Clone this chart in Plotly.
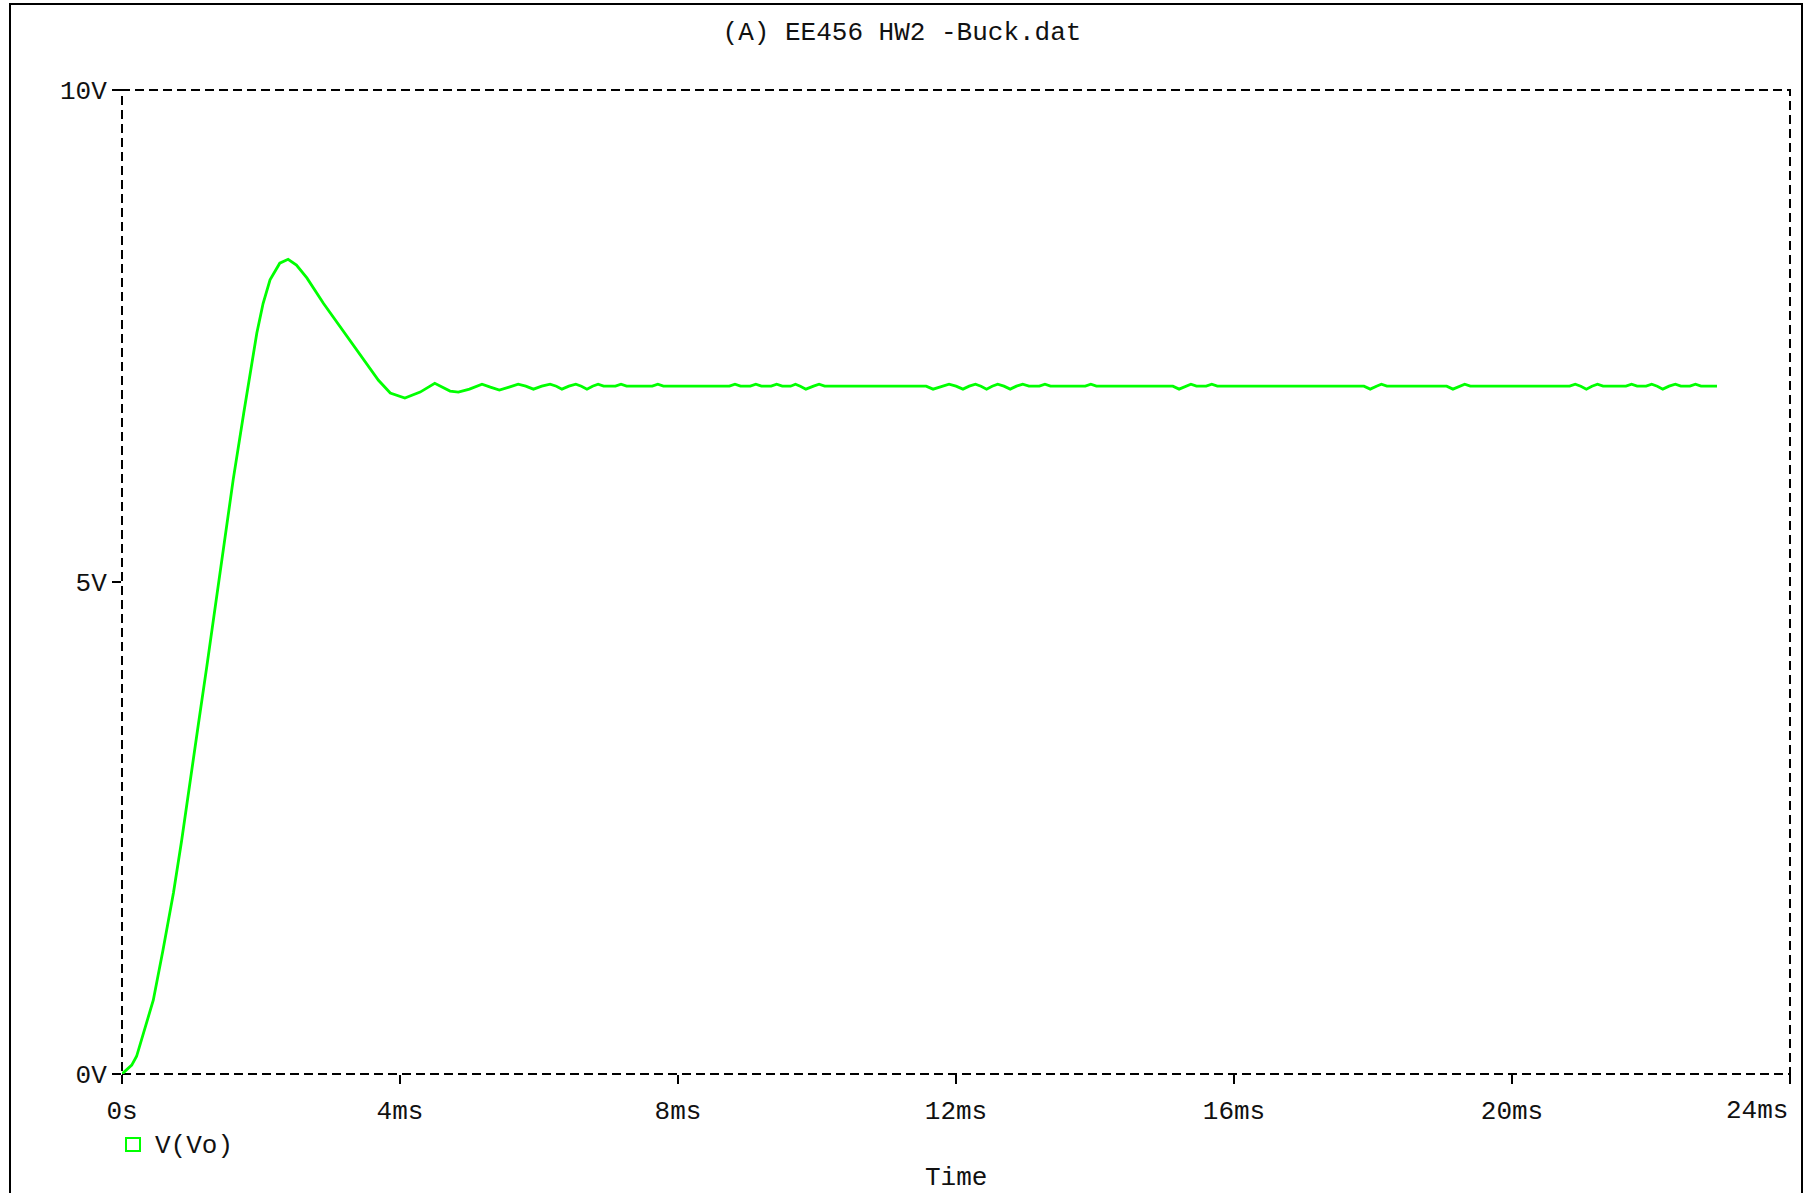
import plotly.graph_objects as go

# ---- data (time in ms, voltage in V) ----
t_rise = [0.00, 0.14, 0.21, 0.31, 0.45, 0.59, 0.74, 0.86, 0.98, 1.10, 1.22, 1.34, 1.46, 1.60, 1.75, 1.84, 1.94, 2.03, 2.13, 2.27, 2.39]
v_rise = [0.00, 0.09, 0.18, 0.41, 0.75, 1.26, 1.84, 2.38, 2.99, 3.56, 4.14, 4.75, 5.33, 6.04, 6.71, 7.12, 7.53, 7.83, 8.07, 8.24, 8.28]

t_ring = [2.51, 2.66, 2.90, 3.14, 3.42, 3.69, 3.86, 4.07, 4.29, 4.50, 4.72, 4.84, 5.00, 5.18, 5.30, 5.43, 5.57, 5.70, 5.81, 5.92,
          6.04, 6.16, 6.25, 6.33, 6.43, 6.53, 6.61, 6.69, 6.77, 6.85, 6.93]
v_ring = [8.22, 8.09, 7.83, 7.59, 7.32, 7.05, 6.92, 6.87, 6.93, 7.02, 6.94, 6.93, 6.96, 7.01, 6.98, 6.95, 6.98, 7.01, 6.99, 6.96,
          6.99, 7.01, 6.99, 6.96, 6.99, 7.01, 6.99, 6.96, 6.99, 7.01, 6.99]

t_settle_1 = [7.10, 7.18, 7.26, 7.63, 7.71, 7.79, 8.74, 8.82, 8.90, 9.04, 9.12, 9.20, 9.34, 9.42, 9.50, 9.62, 9.69, 9.76, 9.84, 9.95, 10.03, 10.11]
v_settle_1 = [6.99, 7.01, 6.99, 6.99, 7.01, 6.99, 6.99, 7.01, 6.99, 6.99, 7.01, 6.99, 6.99, 7.01, 6.99, 6.99, 7.01, 6.99, 6.96, 6.99, 7.01, 6.99]

t_settle_2 = [11.57, 11.67, 11.80, 11.90, 12.00, 12.10, 12.19, 12.28, 12.36, 12.44, 12.52, 12.60, 12.69, 12.78, 12.87, 12.96, 13.05, 13.20, 13.28, 13.36, 13.86, 13.94, 14.02]
v_settle_2 = [6.99, 6.96, 6.99, 7.01, 6.99, 6.96, 6.99, 7.01, 6.99, 6.96, 6.99, 7.01, 6.99, 6.96, 6.99, 7.01, 6.99, 6.99, 7.01, 6.99, 6.99, 7.01, 6.99]

t_settle_3 = [15.12, 15.21, 15.30, 15.38, 15.46, 15.60, 15.68, 15.76, 17.87, 17.96, 18.05, 18.12, 18.20, 19.06, 19.15, 19.24, 19.32, 19.40]
v_settle_3 = [6.99, 6.96, 6.99, 7.01, 6.99, 6.99, 7.01, 6.99, 6.99, 6.96, 6.99, 7.01, 6.99, 6.99, 6.96, 6.99, 7.01, 6.99]

t_settle_4 = [20.83, 20.91, 20.99, 21.07, 21.15, 21.23, 21.31, 21.64, 21.72, 21.80, 21.93, 22.01, 22.09, 22.17, 22.26, 22.35, 22.43, 22.56, 22.64, 22.72, 22.95]
v_settle_4 = [6.99, 7.01, 6.99, 6.96, 6.99, 7.01, 6.99, 6.99, 7.01, 6.99, 6.99, 7.01, 6.99, 6.96, 6.99, 7.01, 6.99, 6.99, 7.01, 6.99, 6.99]

x_tickvals = [0, 4, 8, 12, 16, 20, 24]
x_ticktext = ["0s", "4ms", "8ms", "12ms", "16ms", "20ms", "24ms"]
y_tickvals = [0, 5, 10]
y_ticktext = ["0V", "5V", "10V"]

series_name = "V(Vo)"
title_text = "(A) EE456 HW2 -Buck.dat"
x_title = "Time"

t_all = t_rise + t_ring + t_settle_1 + t_settle_2 + t_settle_3 + t_settle_4
v_all = v_rise + v_ring + v_settle_1 + v_settle_2 + v_settle_3 + v_settle_4

# ---- layout geometry (pixels) ----
W, H = 1804, 1193
L, R, T, B = 122, 14, 90, 119
PW = W - L - R
PH = H - T - B

def px(xp):
    return (xp - L) / PW

def py(yp):
    return (H - B - yp) / PH

FONT = "Courier New, Liberation Mono, monospace"
GREEN = "#00ff00"
TXT = "#111111"

fig = go.Figure()
fig.add_trace(go.Scatter(
    x=t_all, y=v_all, mode="lines", name=series_name,
    line=dict(color=GREEN, width=2.8), showlegend=False, cliponaxis=False,
))

axis_common = dict(
    showgrid=False, zeroline=False, showline=False,
    ticks="outside", ticklen=9, tickwidth=2, tickcolor="black",
    tickfont=dict(family=FONT, size=26, color=TXT),
)

# last x tick label sits right-aligned at the edge (as in the reference)
x_ticktext_axis = x_ticktext[:-1] + [""]

fig.update_layout(
    width=W, height=H,
    margin=dict(l=L, r=R, t=T, b=B, pad=0),
    paper_bgcolor="white", plot_bgcolor="white",
    font=dict(family=FONT, size=26, color=TXT),
    title=dict(text=title_text, x=0.5, xref="container", xanchor="center",
               y=1 - 31 / H, yref="container", yanchor="middle",
               font=dict(family=FONT, size=26, color=TXT)),
    xaxis=dict(range=[0, 24], tickvals=x_tickvals, ticktext=x_ticktext_axis,
               ticklabelstandoff=4, **axis_common),
    yaxis=dict(range=[0, 10], tickvals=y_tickvals, ticktext=y_ticktext,
               ticklabelstandoff=0, **axis_common),
    showlegend=False,
)

fig.add_annotation(text=x_ticktext[-1], xref="x", yref="paper",
                   x=x_tickvals[-1], y=py(1111), xanchor="right", yanchor="middle",
                   showarrow=False, font=dict(family=FONT, size=26, color=TXT))

# dashed plot frame
fig.add_shape(type="rect", xref="paper", yref="paper", x0=0, x1=1, y0=0, y1=1,
              line=dict(color="black", width=2, dash="9px,5px"), layer="below")

# outer solid frame (top, left, right)
fig.add_shape(type="path", xref="paper", yref="paper",
              path=f"M {px(10)} {py(1215)} L {px(10)} {py(4)} L {px(1802)} {py(4)} L {px(1802)} {py(1215)}",
              line=dict(color="black", width=2))

# legend: green open square + label
fig.add_shape(type="rect", xref="paper", yref="paper",
              x0=px(126), x1=px(140), y0=py(1151), y1=py(1138),
              line=dict(color=GREEN, width=2), fillcolor="rgba(0,0,0,0)")
fig.add_annotation(text=series_name, xref="paper", yref="paper",
                   x=px(153), y=py(1146), xanchor="left", yanchor="middle",
                   showarrow=False, font=dict(family=FONT, size=26, color=TXT))

# x-axis title
fig.add_annotation(text=x_title, xref="paper", yref="paper",
                   x=0.5, y=py(1178), xanchor="center", yanchor="middle",
                   showarrow=False, font=dict(family=FONT, size=26, color=TXT))

fig.write_html("out.html", config={"displayModeBar": False},
               post_script="document.body.style.margin='0';document.body.style.overflow='hidden';")
